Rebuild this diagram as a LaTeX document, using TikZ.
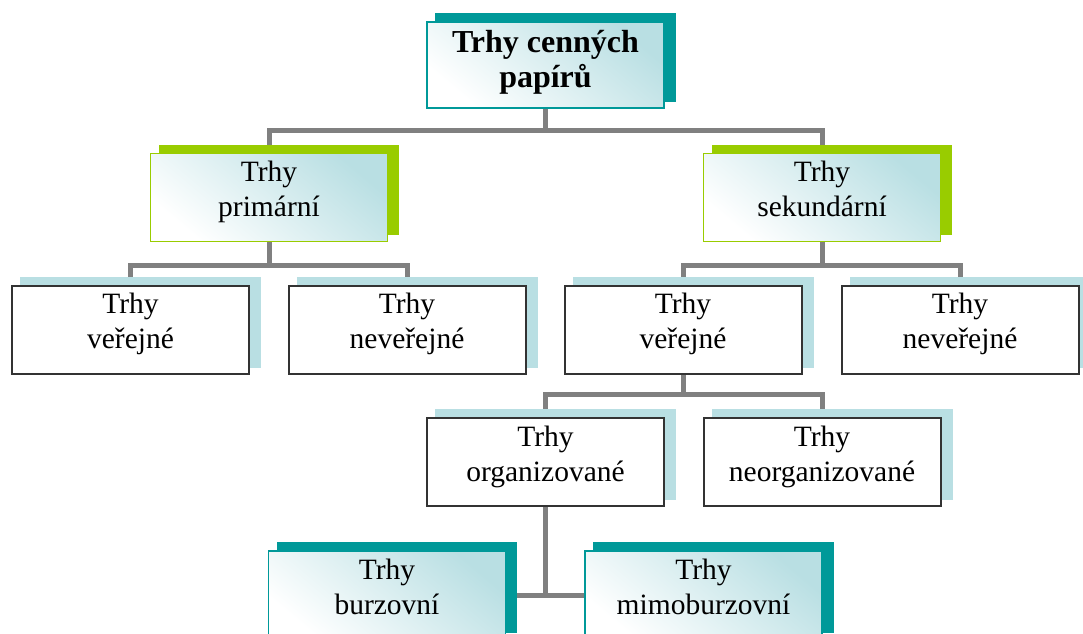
\documentclass[tikz,border=0pt]{standalone}
\usepackage{fontspec}
\setmainfont{Liberation Serif}
\usetikzlibrary{calc}
\pgfdeclarelayer{bg}\pgfdeclarelayer{mid}\pgfsetlayers{bg,mid,main}
\definecolor{tealc}{RGB}{0,153,153}
\definecolor{greenc}{RGB}{153,204,0}
\definecolor{lblue}{RGB}{185,223,227}
\definecolor{conng}{RGB}{128,128,128}
\begin{document}
\begin{tikzpicture}[x=1pt,y=-1pt,
  box/.style={rectangle, minimum width=237pt, minimum height=88pt, inner sep=0pt, align=center, text depth=17pt, font=\fontsize{29.5}{35}\selectfont},
  gradbox/.style={box, top color=lblue, bottom color=white, shading angle=-40},
  tealbox/.style={gradbox, draw=tealc, line width=1.5pt},
  greenbox/.style={gradbox, draw=greenc, line width=1.5pt},
  plainbox/.style={box, fill=white, draw=black!80, line width=2pt},
  conn/.style={draw=conng, line width=5pt}]
\useasboundingbox (0,0) rectangle (1083,633);
\node[tealbox, minimum height=86pt, text depth=12pt, font=\fontsize{32}{35}\selectfont\bfseries] (top) at (545.5,65) {Trhy cenných\\papírů};
\node[greenbox] (gl) at (269,197.5) {Trhy\\primární};
\node[greenbox] (gr) at (822,197.5) {Trhy\\sekundární};
\node[plainbox] (a) at (130.5,329.5) {Trhy\\veřejné};
\node[plainbox] (b) at (407,329.5) {Trhy\\neveřejné};
\node[plainbox] (c) at (683,329.5) {Trhy\\veřejné};
\node[plainbox] (d) at (960,329.5) {Trhy\\neveřejné};
\node[plainbox] (org) at (545.5,462) {Trhy\\organizované};
\node[plainbox] (neo) at (822,462) {Trhy\\neorganizované};
\node[tealbox] (burz) at (387,595) {Trhy\\burzovní};
\node[tealbox] (mimo) at (703.5,595) {Trhy\\mimoburzovní};
\begin{pgfonlayer}{mid}
\foreach \n/\c in {top/tealc,gl/greenc,gr/greenc,a/lblue,b/lblue,c/lblue,d/lblue,org/lblue,neo/lblue,burz/tealc,mimo/tealc}
  \fill[\c] ($(\n.south west)+(9,-7)$) rectangle ($(\n.north east)+(11,-8)$);
\end{pgfonlayer}
\begin{pgfonlayer}{bg}
\path[conn] (top.south) -- ++(0,22) coordinate (j1);
\path[conn] (j1) -| (gl.north);
\path[conn] (j1) -| (gr.north);
\path[conn] (gl.south) -- ++(0,23) coordinate (j2);
\path[conn] (j2) -| (a.north);
\path[conn] (j2) -| (b.north);
\path[conn] (gr.south) -- ++(0,23) coordinate (j3);
\path[conn] (j3) -| (c.north);
\path[conn] (j3) -| (d.north);
\path[conn] (c.south) -- ++(0,20) coordinate (j4);
\path[conn] (j4) -| (org.north);
\path[conn] (j4) -| (neo.north);
\path[conn] (org.south) |- (burz.east);
\path[conn] (org.south) |- (mimo.west);
\end{pgfonlayer}
\end{tikzpicture}
\end{document}
